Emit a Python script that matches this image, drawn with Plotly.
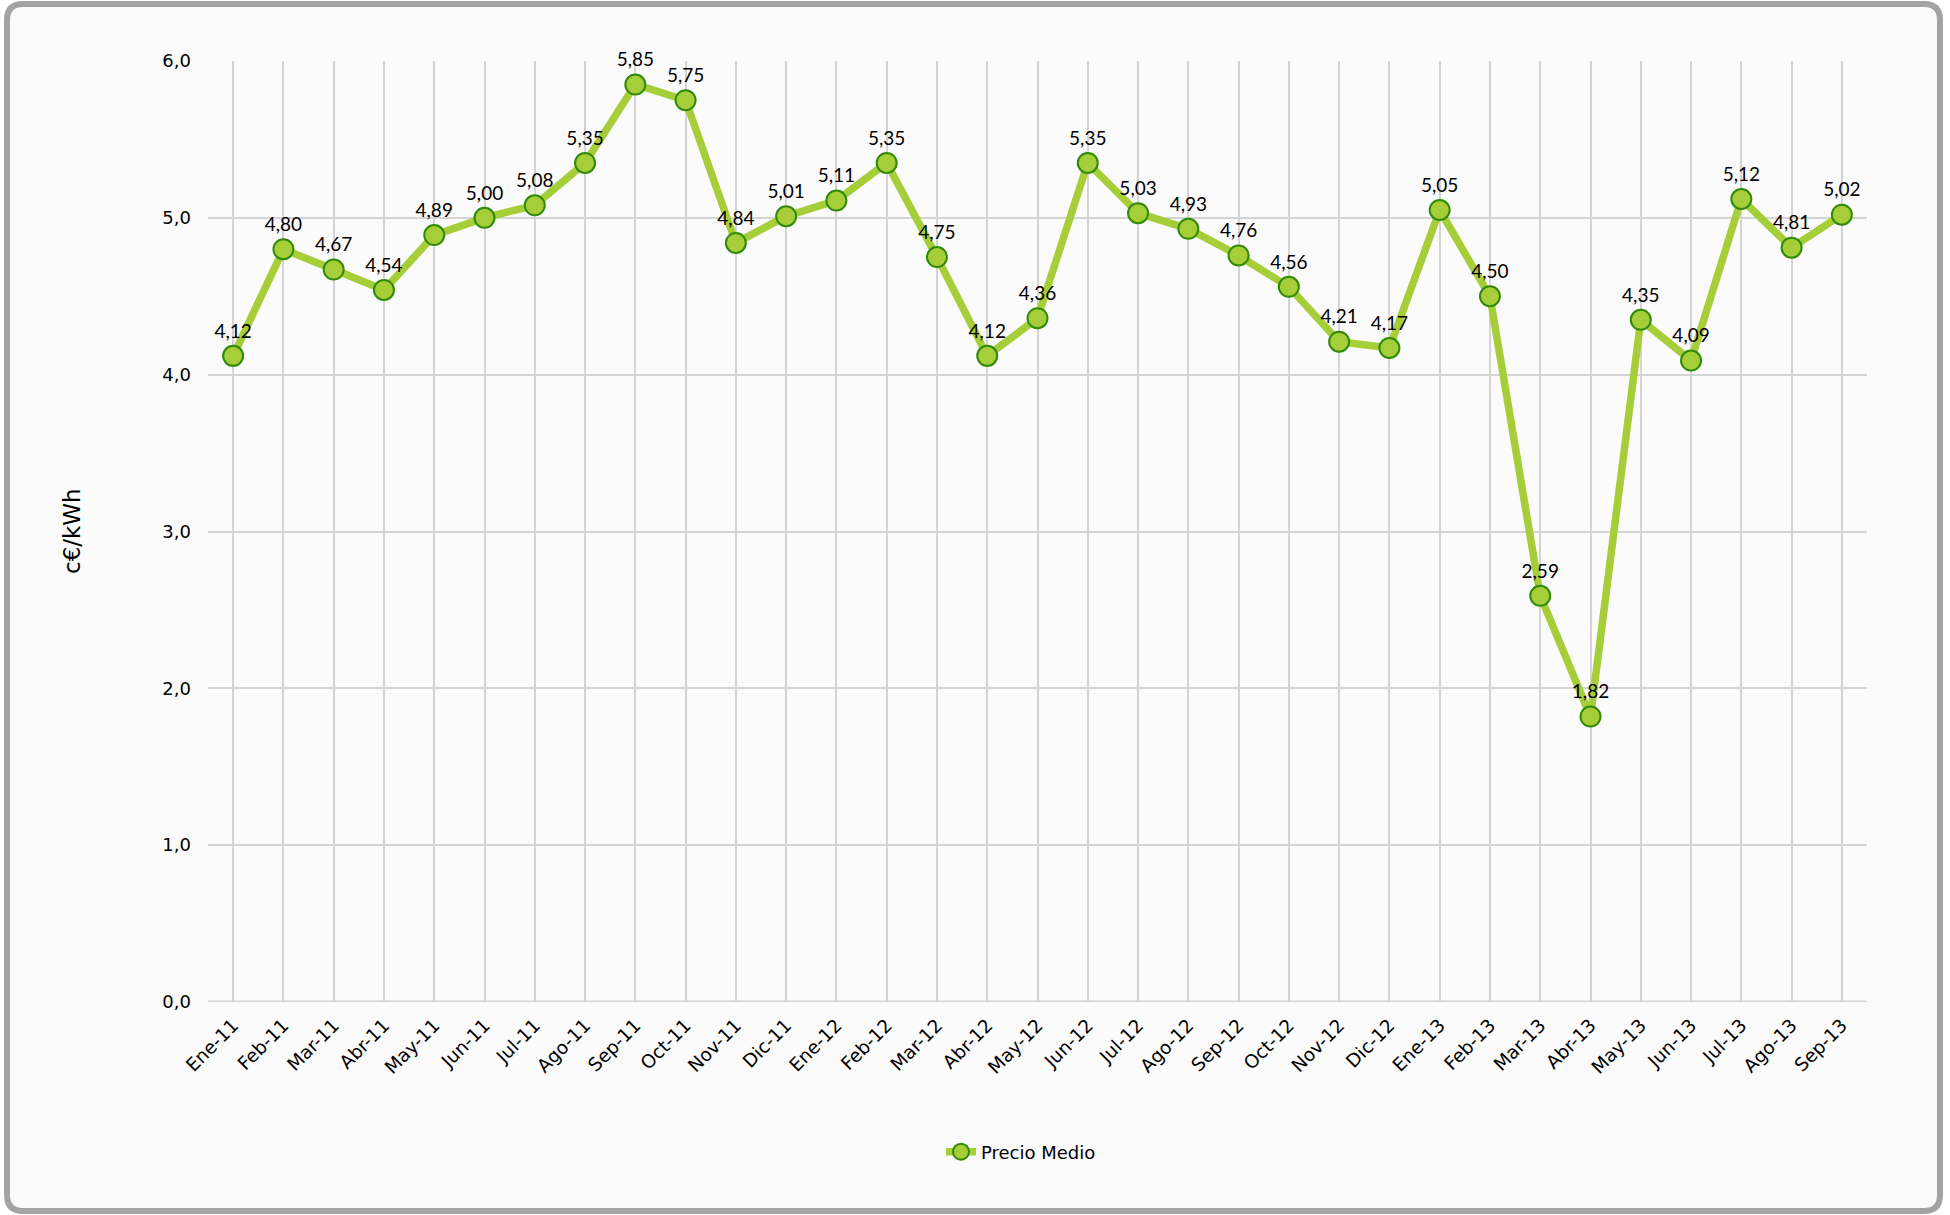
import plotly.graph_objects as go

# Monthly average price, Jan 2011 - Sep 2013
meses = [
    "Ene-11", "Feb-11", "Mar-11", "Abr-11", "May-11", "Jun-11", "Jul-11", "Ago-11",
    "Sep-11", "Oct-11", "Nov-11", "Dic-11", "Ene-12", "Feb-12", "Mar-12", "Abr-12",
    "May-12", "Jun-12", "Jul-12", "Ago-12", "Sep-12", "Oct-12", "Nov-12", "Dic-12",
    "Ene-13", "Feb-13", "Mar-13", "Abr-13", "May-13", "Jun-13", "Jul-13", "Ago-13",
    "Sep-13",
]
precio_medio = [
    4.12, 4.80, 4.67, 4.54, 4.89, 5.00, 5.08, 5.35, 5.85, 5.75, 4.84,
    5.01, 5.11, 5.35, 4.75, 4.12, 4.36, 5.35, 5.03, 4.93, 4.76, 4.56,
    4.21, 4.17, 5.05, 4.50, 2.59, 1.82, 4.35, 4.09, 5.12, 4.81, 5.02,
]
y_ticks = [0, 1, 2, 3, 4, 5, 6]
y_tick_text = ["0,0", "1,0", "2,0", "3,0", "4,0", "5,0", "6,0"]

W, H = 1950, 1215
ML, MR, MT, MB = 208, 83, 61, 213
PW, PH = W - ML - MR, H - MT - MB


def px_x(p):
    return (p - ML) / PW


def px_y(p):
    return (H - MB - p) / PH


def rounded_rect(x0, y0, x1, y1, r):
    # pixel box -> paper-coordinate SVG path with rounded corners
    rx, ry = r / PW, r / PH
    X0, X1 = px_x(x0), px_x(x1)
    Y0, Y1 = px_y(y0), px_y(y1)  # Y0 top, Y1 bottom
    return (
        f"M{X0 + rx},{Y0} L{X1 - rx},{Y0} Q{X1},{Y0} {X1},{Y0 - ry} "
        f"L{X1},{Y1 + ry} Q{X1},{Y1} {X1 - rx},{Y1} "
        f"L{X0 + rx},{Y1} Q{X0},{Y1} {X0},{Y1 + ry} "
        f"L{X0},{Y0 - ry} Q{X0},{Y0} {X0 + rx},{Y0} Z"
    )


labels = [f"{v:.2f}".replace(".", ",") for v in precio_medio]

fig = go.Figure()
fig.add_trace(go.Scatter(
    x=meses,
    y=precio_medio,
    mode="lines+markers+text",
    name="Precio Medio",
    line=dict(color="#a6ce39", width=7.5),
    marker=dict(size=20, color="#a6ce39", line=dict(color="#2f8a07", width=2)),
    text=labels,
    textposition="top center",
    textfont=dict(family="Lato, 'Open Sans', sans-serif", size=19, color="#000000"),
    cliponaxis=False,
))

fig.update_layout(
    width=W,
    height=H,
    margin=dict(l=ML, r=MR, t=MT, b=MB),
    paper_bgcolor="#ffffff",
    plot_bgcolor="rgba(0,0,0,0)",
    font=dict(family="DejaVu Sans, Verdana, sans-serif", color="#000000"),
    showlegend=True,
    legend=dict(
        orientation="h",
        x=px_x(1021), y=px_y(1152),
        xanchor="center", yanchor="middle",
        font=dict(size=18, family="DejaVu Sans, Verdana, sans-serif"),
        bgcolor="rgba(0,0,0,0)",
        itemsizing="trace",
    ),
    xaxis=dict(
        type="category",
        range=[-0.5, len(meses) - 0.5],
        showgrid=True,
        gridcolor="#d4d4d4",
        gridwidth=2,
        tickangle=-45,
        tickfont=dict(size=18.5),
        ticklabelstandoff=8,
        showline=False,
        zeroline=False,
    ),
    yaxis=dict(
        range=[0, 6],
        tickvals=y_ticks,
        ticktext=y_tick_text,
        showgrid=True,
        gridcolor="#d4d4d4",
        gridwidth=2,
        zeroline=False,
        showline=False,
        tickfont=dict(size=18),
        ticklabelstandoff=16,
    ),
    shapes=[
        dict(
            type="path",
            xref="paper", yref="paper",
            path=rounded_rect(7, 4, 1940, 1211, 16),
            line=dict(color="#a3a3a3", width=6),
            fillcolor="#fbfbfb",
            layer="below",
        ),
        dict(
            type="line", xref="paper", yref="y",
            x0=0, x1=1, y0=0, y1=0,
            line=dict(color="#d4d4d4", width=3),
            layer="below",
        ),
    ],
    annotations=[
        dict(
            text="c€/kWh",
            xref="paper", yref="paper",
            x=px_x(72), y=px_y(531),
            xanchor="center", yanchor="middle",
            textangle=-90,
            showarrow=False,
            font=dict(size=23, family="DejaVu Sans, Verdana, sans-serif"),
        )
    ],
)

fig.write_html("out.html")
